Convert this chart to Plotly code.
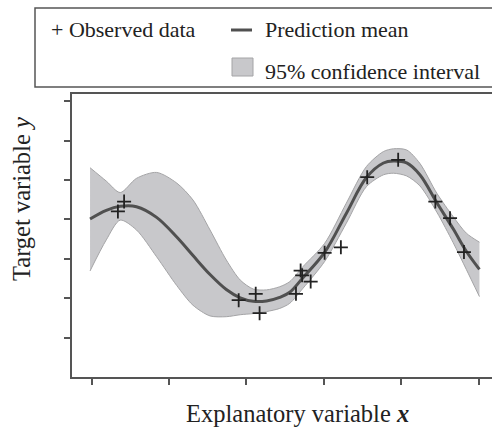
import plotly.graph_objects as go

# Gaussian-process style regression: prediction mean, 95% band and observations
grid_x = [-0.02, 0.19, 0.37, 0.58, 0.84, 1.10, 1.31, 1.53, 1.74, 1.92, 2.09, 2.26, 2.43,
          2.56, 2.73, 3.01, 3.29, 3.55, 3.77, 3.90, 4.07, 4.24, 4.46, 4.67, 4.84, 5.01]
mean_y = [4.01, 4.23, 4.33, 4.32, 4.05, 3.55, 3.08, 2.60, 2.22, 2.01, 1.92, 1.93, 2.02,
          2.15, 2.52, 3.16, 4.15, 5.06, 5.43, 5.48, 5.43, 5.13, 4.42, 3.76, 3.19, 2.73]
upper_y = [5.31, 4.97, 4.68, 5.04, 5.19, 4.92, 4.49, 3.73, 2.97, 2.46, 2.23, 2.21, 2.29,
           2.42, 2.80, 3.39, 4.41, 5.34, 5.72, 5.79, 5.76, 5.42, 4.66, 4.07, 3.65, 3.42]
lower_y = [2.69, 3.48, 3.98, 3.73, 3.05, 2.32, 1.82, 1.55, 1.53, 1.58, 1.61, 1.66, 1.74,
           1.87, 2.25, 2.93, 3.90, 4.83, 5.13, 5.17, 5.10, 4.85, 4.18, 3.41, 2.73, 2.04]

obs_x = [0.34, 0.42, 1.90, 2.12, 2.17, 2.64, 2.70, 2.72, 2.83, 3.01, 3.22, 3.56, 3.96, 4.44, 4.63, 4.81]
obs_y = [4.20, 4.45, 1.95, 2.11, 1.62, 2.11, 2.70, 2.58, 2.42, 3.15, 3.29, 5.07, 5.51, 4.45, 4.03, 3.17]

x_ticks = [0, 1, 2, 3, 4, 5]
y_ticks = [1, 2, 3, 4, 5, 6, 7]

FONT = "Liberation Serif, Times New Roman, serif"
TEXT = "#222222"
AXIS = "#555555"
BAND = "#c8c8cb"
BAND_EDGE = "#a4a4a6"
MEAN = "#505050"

W, H = 492, 427
L, R, T, B = 72, 0, 94, 50
PW, PH = W - L - R, H - T - B


def px(xp):
    return (xp - L) / PW


def py(yp):
    return (H - B - yp) / PH


fig = go.Figure()

fig.add_trace(go.Scatter(x=grid_x, y=lower_y, mode="lines",
                         line=dict(color=BAND_EDGE, width=1, shape="spline", smoothing=0.8),
                         hoverinfo="skip", showlegend=False))
fig.add_trace(go.Scatter(x=grid_x, y=upper_y, mode="lines", fill="tonexty", fillcolor=BAND,
                         line=dict(color=BAND_EDGE, width=1, shape="spline", smoothing=0.8),
                         hoverinfo="skip", showlegend=False))
fig.add_trace(go.Scatter(x=grid_x, y=mean_y, mode="lines", line=dict(color=MEAN, width=3, shape="spline"),
                         showlegend=False))
fig.add_trace(go.Scatter(x=obs_x, y=obs_y, mode="markers",
                         marker=dict(symbol="cross-thin", size=10, line=dict(color=TEXT, width=1.8)),
                         showlegend=False))

axis_common = dict(showgrid=False, zeroline=False, showline=True, linecolor=AXIS, linewidth=2,
                   ticks="outside", ticklen=6, tickwidth=1.5, tickcolor=AXIS, showticklabels=False)

fig.update_xaxes(range=[-0.253, 5.172], tickvals=x_ticks, mirror=True, **axis_common)
fig.update_yaxes(range=[0, 7.18], tickvals=y_ticks, **axis_common)

shapes = [
    # legend frame
    dict(type="rect", xref="paper", yref="paper", x0=px(35), x1=px(505), y0=py(87), y1=py(8),
         line=dict(color=AXIS, width=1.5), fillcolor="rgba(0,0,0,0)", layer="above"),
    # legend key: mean line
    dict(type="line", xref="paper", yref="paper", x0=px(231), x1=px(252), y0=py(30), y1=py(30),
         line=dict(color=MEAN, width=3)),
    # legend key: band swatch
    dict(type="rect", xref="paper", yref="paper", x0=px(232), x1=px(253), y0=py(76), y1=py(58),
         line=dict(color=BAND_EDGE, width=1), fillcolor=BAND),
]

ann_font = dict(family=FONT, size=22, color=TEXT)
annotations = [
    dict(text="+ Observed data", x=px(49), y=py(30), xref="paper", yref="paper",
         xanchor="left", yanchor="middle", showarrow=False, font=ann_font),
    dict(text="Prediction mean", x=px(263), y=py(30), xref="paper", yref="paper",
         xanchor="left", yanchor="middle", showarrow=False, font=ann_font),
    dict(text="95% confidence interval", x=px(263), y=py(71), xref="paper", yref="paper",
         xanchor="left", yanchor="middle", showarrow=False, font=ann_font),
    dict(text="Explanatory variable <b><i>x</i></b>", x=px(297), y=py(413), xref="paper", yref="paper",
         xanchor="center", yanchor="middle", showarrow=False,
         font=dict(family=FONT, size=24.5, color=TEXT)),
    dict(text="Target variable <i>y</i>", x=px(21), y=py(199), xref="paper", yref="paper",
         xanchor="center", yanchor="middle", showarrow=False, textangle=-90,
         font=dict(family=FONT, size=24.5, color=TEXT)),
]

fig.update_layout(
    width=W, height=H,
    margin=dict(l=L, r=R, t=T, b=B, pad=0),
    paper_bgcolor="white", plot_bgcolor="white",
    shapes=shapes, annotations=annotations,
    showlegend=False,
    font=dict(family=FONT, color=TEXT),
)

fig.write_html("out.html")
